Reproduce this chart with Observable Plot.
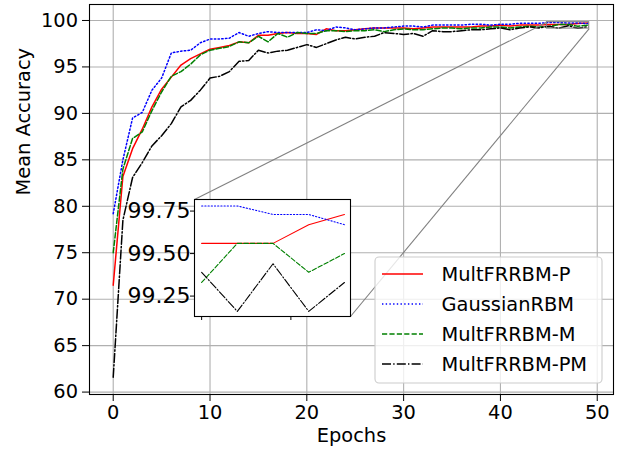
<!DOCTYPE html>
<html><head><meta charset="utf-8">
<script src="https://cdn.jsdelivr.net/npm/d3@7"></script>
<script src="https://cdn.jsdelivr.net/npm/@observablehq/plot@0.6"></script>
<style>
html,body{margin:0;padding:0;background:#fff;}
#chart{position:relative;width:625px;height:451px;}
#chart svg text{font-family:"DejaVu Sans",sans-serif;}
</style></head><body><div id="chart"></div>
<script>
// ---------- data ----------
const epochs = [0,1,2,3,4,5,6,7,8,9,10,11,12,13,14,15,16,17,18,19,20,21,22,23,24,25,26,27,28,29,30,31,32,33,34,35,36,37,38,39,40,41,42,43,44,45,46,47,48,49];
const multFRRBM_P = [71.5,83.2,86.2,88.3,90.7,92.6,93.9,95.2,95.9,96.4,96.9,97.1,97.3,97.7,97.6,98.4,98.4,98.6,98.7,98.6,98.6,98.5,99.1,98.9,98.9,99.0,99.1,99.2,99.2,99.2,99.2,99.1,99.2,99.3,99.3,99.3,99.3,99.3,99.4,99.4,99.5,99.4,99.5,99.5,99.5,99.56,99.56,99.56,99.67,99.73];
const gaussianRBM = [79.2,85.0,89.5,90.1,92.5,93.8,96.5,96.7,96.8,97.6,98.0,98.0,98.1,98.7,98.3,98.6,98.8,98.7,98.7,98.7,98.7,99.0,98.9,99.3,99.2,99.0,99.1,99.2,99.2,99.3,99.4,99.4,99.3,99.5,99.5,99.5,99.5,99.6,99.6,99.5,99.6,99.6,99.7,99.7,99.7,99.78,99.78,99.73,99.73,99.67];
const multFRRBM_M = [75.0,84.0,87.3,88.0,90.3,92.3,94.0,94.5,95.3,96.3,96.8,97.0,97.2,97.7,97.6,98.3,97.7,98.6,98.2,98.7,98.6,98.6,98.9,98.9,98.8,98.9,98.9,99.0,98.8,99.0,99.1,99.0,99.0,99.1,99.2,99.2,99.1,99.2,99.2,99.3,99.3,99.2,99.3,99.4,99.3,99.33,99.56,99.56,99.39,99.50];
const multFRRBM_PM = [61.6,78.5,83.1,84.7,86.5,87.6,88.9,90.7,91.4,92.5,93.8,94.0,94.5,95.6,95.7,96.8,96.5,96.7,96.8,97.1,97.4,97.1,97.5,97.9,98.2,98.0,98.2,98.3,98.7,98.6,98.5,98.6,98.3,98.9,98.8,98.8,98.9,99.0,99.0,99.1,99.2,99.0,99.2,99.3,99.2,99.39,99.16,99.44,99.16,99.33];

const seriesNames = ["MultFRRBM-P","GaussianRBM","MultFRRBM-M","MultFRRBM-PM"];
const seriesValues = [multFRRBM_P, gaussianRBM, multFRRBM_M, multFRRBM_PM];
const seriesColors = ["red","blue","green","black"];

const xTicks = [0,10,20,30,40,50];
const yTicks = [60,65,70,75,80,85,90,95,100];
const insetEpochStart = 45;
const insetXlim = [44.8, 49.17];
const insetYlim = [99.13, 99.818];
const insetXTicks = [45, 47.5];
const insetYTicks = [99.25, 99.5, 99.75];

// ---------- layout ----------
const W = 625, H = 451;
const M = {top: 4, right: 12, bottom: 57, left: 89};
const xDomain = [-2.45, 51.68], yDomain = [59.74, 101.72];
const mainDash = ["none", "1.4,2.3", "5.2,2.2", "9,2.2,1.4,2.2"];
const insetDash = ["none", "1.2,2.0", "4.6,2.0", "8,2,1.2,2"];
const IN = {left: 194, top: 199, width: 156, height: 117};
const IM = {top: 6, right: 6, bottom: 10, left: 80};

const rows = seriesValues.map((vals) => epochs.map((e, i) => ({epoch: e, value: vals[i]})));

const xs = d3.scaleLinear(xDomain, [M.left, W - M.right]);
const ys = d3.scaleLinear(yDomain, [H - M.bottom, M.top]);
const connectors = [
  {x1: insetXlim[0], y1: insetYlim[1], x2: xs.invert(IN.left), y2: ys.invert(IN.top)},
  {x1: insetXlim[1], y1: insetYlim[0], x2: xs.invert(IN.left + IN.width), y2: ys.invert(IN.top + IN.height)}
];
const gridStyle = {stroke: "#b0b0b0", strokeOpacity: 1, strokeWidth: 1.1};

const main = Plot.plot({
  width: W, height: H,
  marginTop: M.top, marginRight: M.right, marginBottom: M.bottom, marginLeft: M.left,
  x: {domain: xDomain, label: null},
  y: {domain: yDomain, label: null},
  style: {fontFamily: "DejaVu Sans", fontSize: "19.4px", background: "transparent", color: "black"},
  marks: [
    Plot.gridX(xTicks, gridStyle),
    Plot.gridY(yTicks, gridStyle),
    ...rows.map((r, i) => Plot.line(r, {x: "epoch", y: "value", stroke: seriesColors[i], strokeWidth: 1.5, strokeDasharray: mainDash[i]})),
    Plot.rect([{x1: insetXlim[0], x2: insetXlim[1], y1: insetYlim[0], y2: insetYlim[1]}], {x1: "x1", x2: "x2", y1: "y1", y2: "y2", fill: "none", stroke: "#808080", strokeWidth: 1.1}),
    Plot.link(connectors, {x1: "x1", y1: "y1", x2: "x2", y2: "y2", stroke: "#808080", strokeWidth: 1.1}),
    Plot.frame({stroke: "black", strokeWidth: 1.1}),
    Plot.axisX(xTicks, {tickSize: 7, tickPadding: 4, label: null}),
    Plot.axisY(yTicks, {tickSize: 7, tickPadding: 4.5, label: null}),
    Plot.text(["Epochs"], {frameAnchor: "bottom", dy: 47, text: (d) => d, fill: "black"}),
    Plot.text(["Mean Accuracy"], {frameAnchor: "left", dx: -66, dy: -4, rotate: -90, text: (d) => d, fill: "black"})
  ]
});

// legend
const sel = d3.select(main);
const lg = sel.append("g").attr("text-anchor", "start");
lg.append("rect").attr("x", 375).attr("y", 257).attr("width", 227).attr("height", 126).attr("rx", 4)
  .attr("fill", "white").attr("fill-opacity", 0.8).attr("stroke", "#cccccc").attr("stroke-width", 1.1);
seriesNames.forEach((name, i) => {
  const y = 274 + i * 30;
  lg.append("line").attr("x1", 382).attr("x2", 423).attr("y1", y).attr("y2", y)
    .attr("stroke", seriesColors[i]).attr("stroke-width", 1.5).attr("stroke-dasharray", mainDash[i]);
  lg.append("text").attr("x", 441.5).attr("y", y).attr("dy", "0.36em").attr("fill", "black")
    .attr("text-anchor", "start").style("font-size", "19.4px").text(name);
});

document.getElementById("chart").appendChild(main);

// inset
const insetRows = rows.map((r) => r.filter((d) => d.epoch >= insetEpochStart));
const inset = Plot.plot({
  width: IM.left + IN.width + IM.right, height: IM.top + IN.height + IM.bottom,
  marginTop: IM.top, marginRight: IM.right, marginBottom: IM.bottom, marginLeft: IM.left,
  x: {domain: insetXlim, label: null},
  y: {domain: insetYlim, label: null},
  style: {fontFamily: "DejaVu Sans", fontSize: "22px", background: "transparent", color: "black", position: "absolute", left: (IN.left - IM.left) + "px", top: (IN.top - IM.top) + "px", overflow: "visible", maxWidth: "none"},
  marks: [
    Plot.frame({fill: "white", stroke: "none"}),
    ...insetRows.map((r, i) => Plot.line(r, {x: "epoch", y: "value", stroke: seriesColors[i], strokeWidth: 1.1, strokeDasharray: insetDash[i]})),
    Plot.frame({stroke: "black", strokeWidth: 1.1}),
    Plot.axisX(insetXTicks, {tickSize: 4, tickFormat: () => "", label: null}),
    Plot.axisY(insetYTicks, {tickSize: 4, tickPadding: 0, tickFormat: (d) => d.toFixed(2), label: null})
  ]
});
document.getElementById("chart").appendChild(inset);
</script></body></html>
